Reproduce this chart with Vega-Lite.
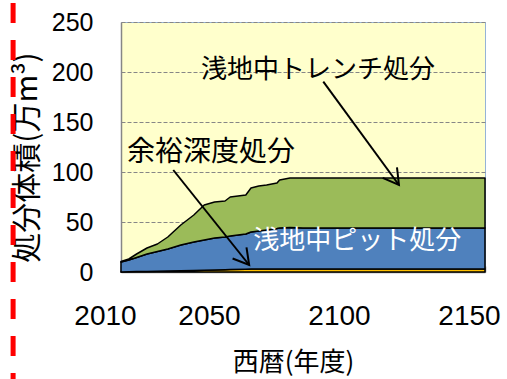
{
  "$schema": "https://vega.github.io/schema/vega-lite/v6.json",
  "width": 364,
  "height": 250,
  "autosize": "none",
  "padding": {"left": 121, "top": 22, "right": 22, "bottom": 107},
  "background": "white",
  "config": {
    "view": {"fill": "#FFFFCC", "stroke": "#95B3D7", "strokeWidth": 1},
    "font": "Liberation Sans"
  },
  "resolve": {"axis": {"x": "independent"}},
  "datasets": {
    "volume": [
      {"year": 2010, "type": "余裕深度処分", "o": 1, "v": 0},
      {"year": 2013, "type": "余裕深度処分", "o": 1, "v": 0.2},
      {"year": 2016, "type": "余裕深度処分", "o": 1, "v": 0.4},
      {"year": 2020, "type": "余裕深度処分", "o": 1, "v": 0.6},
      {"year": 2024, "type": "余裕深度処分", "o": 1, "v": 0.8},
      {"year": 2028, "type": "余裕深度処分", "o": 1, "v": 1.0},
      {"year": 2033, "type": "余裕深度処分", "o": 1, "v": 1.3},
      {"year": 2038, "type": "余裕深度処分", "o": 1, "v": 1.6},
      {"year": 2042, "type": "余裕深度処分", "o": 1, "v": 1.8},
      {"year": 2046, "type": "余裕深度処分", "o": 1, "v": 2.0},
      {"year": 2050, "type": "余裕深度処分", "o": 1, "v": 2.2},
      {"year": 2052, "type": "余裕深度処分", "o": 1, "v": 2.4},
      {"year": 2058, "type": "余裕深度処分", "o": 1, "v": 2.8},
      {"year": 2060, "type": "余裕深度処分", "o": 1, "v": 3},
      {"year": 2063, "type": "余裕深度処分", "o": 1, "v": 3},
      {"year": 2066, "type": "余裕深度処分", "o": 1, "v": 3},
      {"year": 2070, "type": "余裕深度処分", "o": 1, "v": 3},
      {"year": 2071, "type": "余裕深度処分", "o": 1, "v": 3},
      {"year": 2075, "type": "余裕深度処分", "o": 1, "v": 3},
      {"year": 2080, "type": "余裕深度処分", "o": 1, "v": 3},
      {"year": 2150, "type": "余裕深度処分", "o": 1, "v": 3},
      {"year": 2010, "type": "浅地中ピット処分", "o": 2, "v": 10},
      {"year": 2013, "type": "浅地中ピット処分", "o": 2, "v": 11.8},
      {"year": 2016, "type": "浅地中ピット処分", "o": 2, "v": 14.1},
      {"year": 2020, "type": "浅地中ピット処分", "o": 2, "v": 17.4},
      {"year": 2024, "type": "浅地中ピット処分", "o": 2, "v": 19.7},
      {"year": 2028, "type": "浅地中ピット処分", "o": 2, "v": 22},
      {"year": 2033, "type": "浅地中ピット処分", "o": 2, "v": 25.7},
      {"year": 2038, "type": "浅地中ピット処分", "o": 2, "v": 28.4},
      {"year": 2042, "type": "浅地中ピット処分", "o": 2, "v": 30.2},
      {"year": 2046, "type": "浅地中ピット処分", "o": 2, "v": 32},
      {"year": 2050, "type": "浅地中ピット処分", "o": 2, "v": 32.8},
      {"year": 2052, "type": "浅地中ピット処分", "o": 2, "v": 33.6},
      {"year": 2058, "type": "浅地中ピット処分", "o": 2, "v": 35.2},
      {"year": 2060, "type": "浅地中ピット処分", "o": 2, "v": 37},
      {"year": 2063, "type": "浅地中ピット処分", "o": 2, "v": 38},
      {"year": 2066, "type": "浅地中ピット処分", "o": 2, "v": 39},
      {"year": 2070, "type": "浅地中ピット処分", "o": 2, "v": 40.5},
      {"year": 2071, "type": "浅地中ピット処分", "o": 2, "v": 41},
      {"year": 2075, "type": "浅地中ピット処分", "o": 2, "v": 41.5},
      {"year": 2080, "type": "浅地中ピット処分", "o": 2, "v": 41},
      {"year": 2150, "type": "浅地中ピット処分", "o": 2, "v": 41},
      {"year": 2010, "type": "浅地中トレンチ処分", "o": 3, "v": 0.5},
      {"year": 2013, "type": "浅地中トレンチ処分", "o": 3, "v": 1},
      {"year": 2016, "type": "浅地中トレンチ処分", "o": 3, "v": 3.5},
      {"year": 2020, "type": "浅地中トレンチ処分", "o": 3, "v": 6},
      {"year": 2024, "type": "浅地中トレンチ処分", "o": 3, "v": 7.5},
      {"year": 2028, "type": "浅地中トレンチ処分", "o": 3, "v": 12},
      {"year": 2033, "type": "浅地中トレンチ処分", "o": 3, "v": 20},
      {"year": 2038, "type": "浅地中トレンチ処分", "o": 3, "v": 27},
      {"year": 2042, "type": "浅地中トレンチ処分", "o": 3, "v": 35},
      {"year": 2046, "type": "浅地中トレンチ処分", "o": 3, "v": 36},
      {"year": 2050, "type": "浅地中トレンチ処分", "o": 3, "v": 36},
      {"year": 2052, "type": "浅地中トレンチ処分", "o": 3, "v": 39},
      {"year": 2058, "type": "浅地中トレンチ処分", "o": 3, "v": 39},
      {"year": 2060, "type": "浅地中トレンチ処分", "o": 3, "v": 44},
      {"year": 2063, "type": "浅地中トレンチ処分", "o": 3, "v": 45},
      {"year": 2066, "type": "浅地中トレンチ処分", "o": 3, "v": 45},
      {"year": 2070, "type": "浅地中トレンチ処分", "o": 3, "v": 45.5},
      {"year": 2071, "type": "浅地中トレンチ処分", "o": 3, "v": 48},
      {"year": 2075, "type": "浅地中トレンチ処分", "o": 3, "v": 49.5},
      {"year": 2080, "type": "浅地中トレンチ処分", "o": 3, "v": 50},
      {"year": 2150, "type": "浅地中トレンチ処分", "o": 3, "v": 50}
    ],
    "labels": [
      {"label": "浅地中トレンチ処分", "year": 2085.8, "value": 202.5},
      {"label": "余裕深度処分", "year": 2012.3, "value": 119.5},
      {"label": "浅地中ピット処分", "year": 2060.9, "value": 31}
    ],
    "arrows": [
      {"label": "浅地中トレンチ処分", "x1": 2087.8, "y1": 190.3, "x2": 2116.9, "y2": 87},
      {"label": "余裕深度処分", "x1": 2030.1, "y1": 102, "x2": 2059.3, "y2": 7}
    ],
    "frame": [
      {"year": 1968.5, "top": 269, "bottom": -110}
    ]
  },
  "layer": [
    {
      "data": {"name": "volume"},
      "mark": {"type": "area", "stroke": "black", "strokeWidth": 1.5, "strokeJoin": "round", "opacity": 1},
      "encoding": {
        "x": {
          "field": "year", "type": "quantitative",
          "scale": {"domain": [2010, 2150], "nice": false, "zero": false},
          "axis": {
            "orient": "bottom",
            "values": [2010, 2050, 2100, 2150],
            "format": "d",
            "ticks": false, "domain": false, "grid": false,
            "labelFontSize": 28, "labelColor": "black", "labelPadding": 30,
            "labelOffset": -16, "labelBaseline": "top", "labelFlush": false, "labelOverlap": false,
            "title": "西暦(年度)", "titleFont": "Noto Sans CJK JP", "titleFontSize": 26,
            "titleFontWeight": "normal", "titleColor": "black",
            "titleX": 172, "titleY": 90, "titleBaseline": "middle", "titleAlign": "center"
          }
        },
        "y": {
          "field": "v", "type": "quantitative", "stack": "zero",
          "scale": {"domain": [0, 250], "nice": false},
          "axis": {
            "values": [0, 50, 100, 150, 200, 250],
            "grid": true, "gridDash": [4, 2], "gridColor": "#868686", "gridWidth": 1,
            "ticks": false, "domainColor": "#868686", "domainWidth": 1.5,
            "labelFontSize": 25, "labelColor": "black", "labelPadding": 28,
            "title": "処分体積(万m³)", "titleFont": "Noto Sans CJK JP", "titleFontSize": 30,
            "titleFontWeight": "normal", "titleColor": "black",
            "titleX": -94, "titleY": 135, "titleAngle": -90,
            "titleBaseline": "middle", "titleAlign": "center"
          }
        },
        "color": {
          "field": "type", "type": "nominal",
          "scale": {
            "domain": ["余裕深度処分", "浅地中ピット処分", "浅地中トレンチ処分"],
            "range": ["#FFC000", "#4F81BD", "#9BBB59"]
          },
          "legend": null
        },
        "order": {"field": "o", "type": "quantitative"}
      }
    },
    {
      "data": {"name": "labels"},
      "transform": [{"filter": "datum.label === '浅地中トレンチ処分'"}],
      "mark": {"type": "text", "font": "Noto Sans CJK JP", "fontSize": 26, "color": "black", "align": "center", "baseline": "middle"},
      "encoding": {
        "x": {"field": "year", "type": "quantitative", "axis": null},
        "y": {"field": "value", "type": "quantitative"},
        "text": {"field": "label"}
      }
    },
    {
      "data": {"name": "labels"},
      "transform": [{"filter": "datum.label === '余裕深度処分'"}],
      "mark": {"type": "text", "font": "Noto Sans CJK JP", "fontSize": 28, "color": "black", "align": "left", "baseline": "middle"},
      "encoding": {
        "x": {"field": "year", "type": "quantitative", "axis": null},
        "y": {"field": "value", "type": "quantitative"},
        "text": {"field": "label"}
      }
    },
    {
      "data": {"name": "labels"},
      "transform": [{"filter": "datum.label === '浅地中ピット処分'"}],
      "mark": {"type": "text", "font": "Noto Sans CJK JP", "fontSize": 26, "color": "white", "align": "left", "baseline": "middle"},
      "encoding": {
        "x": {"field": "year", "type": "quantitative", "axis": null},
        "y": {"field": "value", "type": "quantitative"},
        "text": {"field": "label"}
      }
    },
    {
      "data": {"name": "arrows"},
      "mark": {"type": "rule", "color": "black", "strokeWidth": 2},
      "encoding": {
        "x": {"field": "x1", "type": "quantitative", "axis": null},
        "y": {"field": "y1", "type": "quantitative"},
        "x2": {"field": "x2"},
        "y2": {"field": "y2"}
      }
    },
    {
      "data": {"name": "arrows"},
      "transform": [{"filter": "datum.label === '浅地中トレンチ処分'"}],
      "mark": {"type": "point", "shape": "M-1,-0.577L0,0L-1,0.577", "size": 950, "filled": false, "stroke": "black", "strokeWidth": 2, "opacity": 1, "angle": 53.7},
      "encoding": {
        "x": {"field": "x2", "type": "quantitative", "axis": null},
        "y": {"field": "y2", "type": "quantitative"}
      }
    },
    {
      "data": {"name": "arrows"},
      "transform": [{"filter": "datum.label === '余裕深度処分'"}],
      "mark": {"type": "point", "shape": "M-1,-0.577L0,0L-1,0.577", "size": 950, "filled": false, "stroke": "black", "strokeWidth": 2, "opacity": 1, "angle": 51.3},
      "encoding": {
        "x": {"field": "x2", "type": "quantitative", "axis": null},
        "y": {"field": "y2", "type": "quantitative"}
      }
    },
    {
      "data": {"name": "frame"},
      "mark": {"type": "rule", "color": "#FF0000", "strokeWidth": 5, "strokeDash": [20, 17], "strokeCap": "butt"},
      "encoding": {
        "x": {
          "field": "year", "type": "quantitative",
          "axis": {
            "orient": "bottom",
            "values": [2010, 2020, 2030, 2040, 2050, 2060, 2070, 2080, 2090, 2100, 2110, 2120, 2130, 2140, 2150],
            "labels": false, "grid": false,
            "ticks": true, "tickSize": -6, "tickColor": "#868686", "tickWidth": 1.5,
            "domain": true, "domainColor": "#868686", "domainWidth": 1.5,
            "title": null
          }
        },
        "y": {"field": "top", "type": "quantitative"},
        "y2": {"field": "bottom"}
      }
    }
  ]
}
